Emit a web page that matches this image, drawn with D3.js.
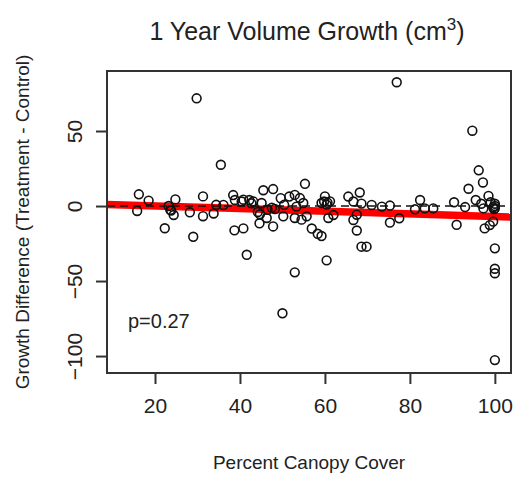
<!DOCTYPE html>
<html>
<head>
<meta charset="utf-8">
<script src="https://cdn.jsdelivr.net/npm/d3@7"></script>
<style>
	body { margin: 0; background: #fff; }
	text { font-family: "Liberation Sans", Arial, sans-serif; fill: #222; }
</style>
</head>
<body>
<div id="chart"></div>
<script>

/* data */
var canopyCover = [
	16.2, 18.5, 15.8, 24.8, 23.2, 23.8, 24.4, 22.3, 28.2, 29.0,
	29.8, 31.3, 31.3, 33.8, 34.4, 35.5, 36.1, 38.4, 38.8, 40.8,
	42.2, 43.1, 42.7, 45.1, 38.7, 40.8, 41.6, 44.7, 44.6, 45.5,
	47.8, 46.3, 47.8, 46.5, 47.5, 49.6, 50.4, 51.6, 52.9, 54.1,
	50.2, 52.9, 54.5, 55.7, 54.9, 53.3, 55.3, 50.0, 52.9, 56.9,
	58.3, 59.2, 60.4, 60.0, 61.2, 59.2, 60.4, 60.8, 62.0, 59.8,
	60.6, 65.5, 68.2, 66.7, 68.6, 66.7, 67.5, 67.5, 68.6, 69.8,
	71.0, 73.4, 75.3, 75.3, 77.5, 76.9, 82.4, 81.2, 83.5, 85.5,
	90.4, 91.0, 93.0, 94.7, 96.2, 97.2, 93.8, 98.5, 95.5, 97.3,
	99.6, 100, 99.8, 97.6, 99.6, 98.8, 100, 100, 100, 100,
	96.8, 99.0, 100, 100, 23.6, 40.4, 44.2, 48.2
];
var growthDiff = [
	7.8, 3.6, -3.3, 4.4, 0.0, -3.0, -6.0, -14.8, -4.2, -20.5,
	71.8, 6.4, -6.8, -5.0, 0.8, 27.5, 0.7, 7.3, 4.0, 4.2,
	4.0, 3.1, 1.8, 2.0, -16.2, -14.9, -32.5, -5.5, -11.5, 10.5,
	11.3, -8.0, -13.6, -2.5, -1.2, 5.2, 0.8, 6.3, 7.4, 5.3,
	-6.9, -8.0, -9.1, -6.9, 2.0, -0.4, 14.8, -71.5, -44.2, -15.0,
	-18.5, -20.0, -36.2, 6.4, 3.1, 2.0, 0.9, -8.0, -6.0, 3.0,
	2.2, 6.3, 9.0, 3.0, 1.6, -9.3, -5.8, -16.3, -27.1, -27.1,
	0.7, -0.4, 0.3, -11.0, -8.2, 82.5, 4.0, -2.2, -1.6, -1.6,
	2.5, -12.5, -0.7, 50.2, 23.8, 15.7, 11.5, 6.7, 4.0, -1.6,
	-0.9, 0.0, -2.0, -14.9, -10.4, -12.7, -28.2, -41.8, -44.8, -102.7,
	1.5, 2.5, 1.5, -1.5, -2.6, 3.0, -4.0, -2.0
];
var xTicks = [20, 40, 60, 80, 100];
var yTicks = [50, 0, -50, -100];
var xLimits = [8.7, 103.8];
var yLimits = [-111.3, 90];
var fitIntercept = 1.8;
var fitSlope = -0.088;
var pLabel = 'p=0.27';

var width = 515, height = 477;
var plot = { left: 107, right: 511, top: 71, bottom: 373 };

var svg = d3.select('#chart').append('svg')
	.attr('width', width)
	.attr('height', height);

var x = d3.scaleLinear().domain(xLimits).range([plot.left, plot.right]);
var y = d3.scaleLinear().domain(yLimits).range([plot.bottom, plot.top]);

svg.append('clipPath').attr('id', 'clip')
	.append('rect')
	.attr('x', plot.left).attr('y', plot.top)
	.attr('width', plot.right - plot.left).attr('height', plot.bottom - plot.top);

/* red fitted line across the whole plot */
svg.append('line')
	.attr('clip-path', 'url(#clip)')
	.attr('x1', x(xLimits[0])).attr('y1', y(fitIntercept + fitSlope * xLimits[0]))
	.attr('x2', x(xLimits[1])).attr('y2', y(fitIntercept + fitSlope * xLimits[1]))
	.attr('stroke', '#ff0000')
	.attr('stroke-width', 7.5);

/* zero line */
svg.append('line')
	.attr('x1', plot.left).attr('x2', plot.right)
	.attr('y1', y(0)).attr('y2', y(0))
	.attr('stroke', '#111')
	.attr('stroke-width', 1.5)
	.attr('stroke-dasharray', '8,5');

var points = canopyCover.map(function(c, i) { return { x: c, y: growthDiff[i] }; });

svg.append('g').selectAll('circle')
	.data(points)
	.enter().append('circle')
	.attr('cx', function(d) { return x(d.x); })
	.attr('cy', function(d) { return y(d.y); })
	.attr('r', 4.4)
	.attr('fill', 'none')
	.attr('stroke', '#111')
	.attr('stroke-width', 1.6);

/* box */
svg.append('rect')
	.attr('x', plot.left).attr('y', plot.top)
	.attr('width', plot.right - plot.left).attr('height', plot.bottom - plot.top)
	.attr('fill', 'none')
	.attr('stroke', '#333')
	.attr('stroke-width', 2);

/* axes */
var xAxis = svg.append('g')
	.attr('transform', 'translate(0,' + plot.bottom + ')')
	.call(d3.axisBottom(x).tickValues(xTicks).tickSize(11).tickPadding(14).tickFormat(d3.format('d')));
xAxis.select('.domain').remove();
xAxis.selectAll('line').attr('stroke', '#333').attr('stroke-width', 2);
xAxis.selectAll('text').attr('font-size', 21).style('fill', '#222');

var yAxis = svg.append('g')
	.attr('transform', 'translate(' + plot.left + ',0)')
	.call(d3.axisLeft(y).tickValues(yTicks).tickSize(11).tickFormat(d3.format('d')));
yAxis.select('.domain').remove();
yAxis.selectAll('line').attr('stroke', '#333').attr('stroke-width', 2);
yAxis.selectAll('text')
	.attr('font-size', 21)
	.style('fill', '#222')
	.attr('x', null).attr('dy', null)
	.attr('text-anchor', 'middle')
	.attr('transform', 'translate(-25,0) rotate(-90)');

/* titles */
var title = svg.append('text')
	.attr('x', (plot.left + plot.right) / 2 - 2)
	.attr('y', 40)
	.attr('text-anchor', 'middle')
	.attr('font-size', 25);
title.append('tspan').text('1 Year Volume Growth (cm');
title.append('tspan').attr('font-size', 17).attr('dy', -10).text('3');
title.append('tspan').attr('dy', 10).text(')');

svg.append('text')
	.attr('x', (plot.left + plot.right) / 2)
	.attr('y', 469)
	.attr('text-anchor', 'middle')
	.attr('font-size', 19)
	.text('Percent Canopy Cover');

svg.append('text')
	.attr('transform', 'translate(29,' + ((plot.top + plot.bottom) / 2) + ') rotate(-90)')
	.attr('text-anchor', 'middle')
	.attr('font-size', 19)
	.text('Growth Difference (Treatment - Control)');

svg.append('text')
	.attr('x', 128)
	.attr('y', 328)
	.attr('font-size', 20)
	.text(pLabel);

</script>
</body>
</html>
